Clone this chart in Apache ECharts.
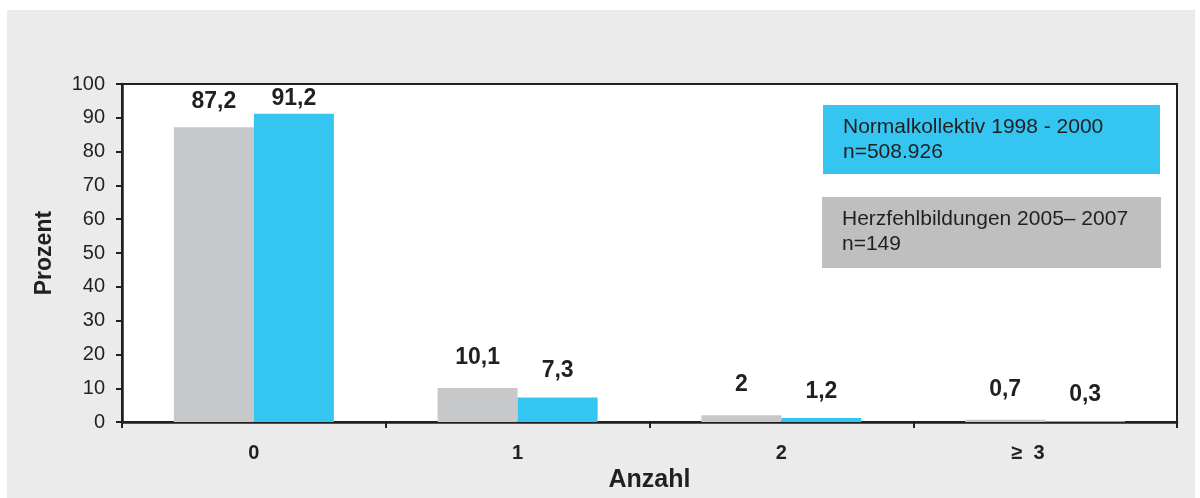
<!DOCTYPE html>
<html>
<head>
<meta charset="utf-8">
<script src="https://cdn.jsdelivr.net/npm/echarts@6/dist/echarts.min.js"></script>
<style>
  html, body { margin: 0; padding: 0; background: #ffffff; }
  #panel { position: absolute; left: 7px; top: 10px; width: 1188px; height: 488px; background: #ebebeb; }
  #chart { position: absolute; left: 0; top: 0; width: 1200px; height: 498px; }
</style>
</head>
<body>
<div id="panel"></div>
<div id="chart"></div>
<script>
// Number of findings per child, share of each group in percent
const categories = ['0', '1', '2', '\u2265  3'];
const herzfehlbildungen = [87.2, 10.1, 2, 0.7];
const normalkollektiv = [91.2, 7.3, 1.2, 0.3];
const yTicks = [0, 10, 20, 30, 40, 50, 60, 70, 80, 90, 100];

const seriesInfo = [
  { name: 'Herzfehlbildungen 2005\u2013 2007', n: 'n=149', values: herzfehlbildungen },
  { name: 'Normalkollektiv 1998 - 2000', n: 'n=508.926', values: normalkollektiv }
];

const ink = '#231f20';
const grayBar = '#c7c8ca';
const blueBar = '#35c5f1';
const font = '"Liberation Sans", Arial, sans-serif';

const chart = echarts.init(document.getElementById('chart'), null, { renderer: 'canvas' });

const fmt = v => String(v).replace('.', ',');

// label gap above each bar; the tall bars keep their labels inside the frame
const labelGaps = [[14, 19, 19, 19], [4, 15, 15, 15]];

function buildSeries(info, idx, color) {
  return {
    name: info.name,
    type: 'bar',
    barWidth: 80,
    barGap: '0%',
    itemStyle: { color: color },
    data: info.values.map((v, i) => ({
      value: v,
      label: { distance: labelGaps[idx][i] }
    })),
    label: {
      show: true,
      position: 'top',
      color: ink,
      fontFamily: font,
      fontWeight: 'bold',
      fontSize: 23,
      formatter: p => fmt(p.value)
    }
  };
}

const legendBoxes = [
  { info: seriesInfo[1], fill: '#35c5f1', x: 823, y: 105, w: 337, h: 69 },
  { info: seriesInfo[0], fill: '#bfbfbf', x: 822, y: 197, w: 339, h: 71 }
];

const graphics = [];
legendBoxes.forEach(b => {
  graphics.push({
    type: 'rect',
    left: b.x, top: b.y,
    shape: { width: b.w, height: b.h },
    style: { fill: b.fill },
    z: 100
  });
  graphics.push({
    type: 'text',
    left: b.x + 20, top: b.y + 10,
    style: {
      text: b.info.name + '\n' + b.info.n,
      font: '21px ' + font,
      lineHeight: 25,
      fill: ink
    },
    z: 101
  });
});

// the last category label sits a little left of its slot
const categoryItems = categories.map((c, i) =>
  i === categories.length - 1
    ? { value: c, textStyle: { padding: [0, 34, 0, 0] } }
    : { value: c }
);

chart.setOption({
  backgroundColor: 'transparent',
  animation: false,
  textStyle: { fontFamily: font },
  grid: {
    left: 122, right: 23, top: 84, bottom: 72,
    show: true,
    backgroundColor: '#ffffff',
    borderColor: ink,
    borderWidth: 2
  },
  xAxis: {
    type: 'category',
    data: categoryItems,
    name: 'Anzahl',
    nameLocation: 'middle',
    nameGap: 31,
    nameTextStyle: { color: ink, fontSize: 25, fontWeight: 'bold', fontFamily: font },
    axisLine: { lineStyle: { color: ink, width: 2.5 } },
    axisTick: { show: true, length: 6, lineStyle: { color: ink, width: 2 } },
    axisLabel: { color: ink, fontSize: 20, fontWeight: 'bold', margin: 21, fontFamily: font }
  },
  yAxis: {
    type: 'value',
    min: yTicks[0],
    max: yTicks[yTicks.length - 1],
    interval: yTicks[1] - yTicks[0],
    name: 'Prozent',
    nameLocation: 'middle',
    nameRotate: 90,
    nameGap: 66,
    nameTextStyle: { color: ink, fontSize: 23, fontWeight: 'bold', fontFamily: font },
    axisLine: { show: true, lineStyle: { color: ink, width: 2.5 } },
    axisTick: { show: true, length: 6, lineStyle: { color: ink, width: 2 } },
    axisLabel: { color: ink, fontSize: 20, margin: 17, fontFamily: font },
    splitLine: { show: false }
  },
  series: [
    buildSeries(seriesInfo[0], 0, grayBar),
    buildSeries(seriesInfo[1], 1, blueBar)
  ],
  graphic: graphics
});
</script>
</body>
</html>
